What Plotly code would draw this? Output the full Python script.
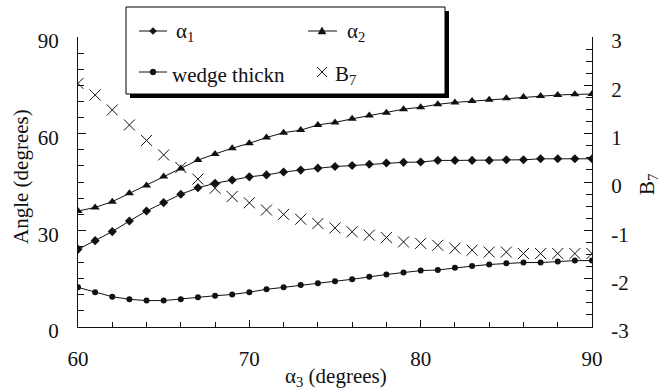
import plotly.graph_objects as go

# ---- data ----
alpha3 = list(range(60, 91))
alpha1 = [24.1, 26.8, 29.6, 32.9, 36.0, 38.6, 41.2, 43.2, 44.6, 45.6, 46.6, 47.2, 48.1, 48.7, 49.3,
          49.8, 50.1, 50.5, 50.9, 51.1, 51.2, 51.7, 51.7, 51.7, 51.7, 51.9, 51.9, 52.2, 52.2, 52.2, 52.2]
alpha2 = [36.0, 37.1, 38.9, 41.5, 43.9, 46.7, 49.2, 51.8, 53.7, 55.5, 57.0, 58.8, 60.3, 61.1, 62.7,
          63.5, 64.6, 65.6, 66.5, 67.6, 68.2, 69.1, 69.7, 70.1, 70.5, 71.0, 71.4, 71.7, 72.0, 72.2, 72.3]
wedge = [12.3, 10.8, 9.4, 8.6, 8.2, 8.2, 8.6, 9.2, 9.7, 10.1, 10.8, 11.7, 12.3, 13.0, 13.6,
         14.2, 14.8, 15.6, 16.3, 16.9, 17.5, 17.7, 18.4, 18.9, 19.4, 19.8, 20.0, 20.0, 20.3, 20.6, 20.6]
b7 = [2.04, 1.80, 1.49, 1.18, 0.86, 0.56, 0.30, 0.06, -0.13, -0.30, -0.43, -0.58, -0.67, -0.77, -0.86,
      -0.95, -1.03, -1.10, -1.15, -1.24, -1.27, -1.31, -1.37, -1.41, -1.45, -1.45, -1.48, -1.48, -1.48, -1.48, -1.48]

x_ticks = [60, 70, 80, 90]
y_left_ticks = [0, 30, 60, 90]
y_right_ticks = [-3, -2, -1, 0, 1, 2, 3]
y_right_text = ["-3", "-2", "-1", "0", "1", "2", "3"]

FONT = "Liberation Serif"
INK = "#111111"
FS = 21

W, H = 660, 391
L, R, T, B = 78, 68, 37, 64
PW, PH = W - L - R, H - T - B


def px(x):
    return (x - L) / PW


def py(y):
    return (H - B - y) / PH


fig = go.Figure()
line = dict(color=INK, width=1)
fig.add_trace(go.Scatter(x=alpha3, y=alpha1, name="α<sub>1</sub>", mode="lines+markers",
                         line=line, marker=dict(symbol="diamond", size=7, color=INK)))
fig.add_trace(go.Scatter(x=alpha3, y=alpha2, name="α<sub>2</sub>", mode="lines+markers",
                         line=line, marker=dict(symbol="triangle-up", size=8, color=INK)))
fig.add_trace(go.Scatter(x=alpha3, y=wedge, name="wedge thickn", mode="lines+markers",
                         line=line, marker=dict(symbol="circle", size=6, color=INK)))
fig.add_trace(go.Scatter(x=alpha3, y=b7, name="B<sub>7</sub>", mode="markers", yaxis="y2",
                         marker=dict(symbol="x-thin-open", size=11, color=INK,
                                     line=dict(color=INK, width=1))))

# ---- custom legend (box with shadow) ----
shapes = []
bx0, bx1, by0, by1 = 126, 445, 7, 94
shapes.append(dict(type="rect", xref="paper", yref="paper", x0=px(bx0 + 4), x1=px(bx1 + 4),
                   y0=py(by1 + 4), y1=py(by0 + 4), fillcolor="black", line=dict(width=0), layer="above"))
shapes.append(dict(type="rect", xref="paper", yref="paper", x0=px(bx0), x1=px(bx1),
                   y0=py(by1), y1=py(by0), fillcolor="white", line=dict(color="black", width=1), layer="above"))


def seg(x0, x1, y):
    shapes.append(dict(type="line", xref="paper", yref="paper", x0=px(x0), x1=px(x1), y0=py(y), y1=py(y),
                       line=dict(color=INK, width=1), layer="above"))


def poly(pts):
    d = "M " + " L ".join(f"{px(a):.5f},{py(b):.5f}" for a, b in pts) + " Z"
    shapes.append(dict(type="path", xref="paper", yref="paper", path=d, fillcolor=INK,
                       line=dict(color=INK, width=0.5), layer="above"))


r1, r2 = 31, 72
seg(139, 167, r1)
poly([(153, r1 - 3.5), (156.5, r1), (153, r1 + 3.5), (149.5, r1)])
seg(308, 337, r1)
poly([(322, r1 - 4), (326, r1 + 3), (318, r1 + 3)])
seg(139, 167, r2)
shapes.append(dict(type="circle", xref="paper", yref="paper", x0=px(150), x1=px(156), y0=py(r2 + 3), y1=py(r2 - 3),
                   fillcolor=INK, line=dict(color=INK, width=0.5), layer="above"))
shapes.append(dict(type="line", xref="paper", yref="paper", x0=px(317), x1=px(327), y0=py(r2 - 5), y1=py(r2 + 5),
                   line=dict(color=INK, width=1), layer="above"))
shapes.append(dict(type="line", xref="paper", yref="paper", x0=px(317), x1=px(327), y0=py(r2 + 5), y1=py(r2 - 5),
                   line=dict(color=INK, width=1), layer="above"))

lf = dict(family=FONT, size=FS, color=INK)
annotations = [
    dict(text="α<sub>1</sub>", x=px(174), y=py(r1 + 1), xref="paper", yref="paper", xanchor="left", yanchor="middle",
         showarrow=False, font=lf),
    dict(text="α<sub>2</sub>", x=px(345), y=py(r1 + 1), xref="paper", yref="paper", xanchor="left", yanchor="middle",
         showarrow=False, font=lf),
    dict(text="wedge thickn", x=px(170), y=py(r2 + 3), xref="paper", yref="paper", xanchor="left", yanchor="middle",
         showarrow=False, font=lf),
    dict(text="B<sub>7</sub>", x=px(333), y=py(r2 + 3), xref="paper", yref="paper", xanchor="left", yanchor="middle",
         showarrow=False, font=lf),
    # axis titles placed explicitly
    dict(text="α<sub>3</sub> (degrees)", x=px(336), y=py(377), xref="paper", yref="paper",
         xanchor="center", yanchor="middle", showarrow=False, font=lf),
    dict(text="B<sub>7</sub>", x=px(648), y=py(185), xref="paper", yref="paper", textangle=-90,
         xanchor="center", yanchor="middle", showarrow=False, font=lf),
    dict(text="Angle (degrees)", x=px(21), y=py(177), xref="paper", yref="paper", textangle=-90,
         xanchor="center", yanchor="middle", showarrow=False, font=lf),
]

tf = dict(family=FONT, size=FS, color=INK)
fig.update_layout(
    width=W, height=H, autosize=False,
    margin=dict(l=L, r=R, t=T, b=B, pad=0),
    paper_bgcolor="white", plot_bgcolor="white",
    showlegend=False,
    font=dict(family=FONT, size=FS, color=INK),
    shapes=shapes, annotations=annotations,
    xaxis=dict(range=[60, 90], tickvals=x_ticks, ticks="inside", ticklen=7, tickcolor=INK,
               showline=True, linecolor=INK, linewidth=1, showgrid=False, zeroline=False,
               ticklabelstandoff=13, tickfont=tf,
               minor=dict(dtick=2, ticks="inside", ticklen=5, tickcolor=INK, showgrid=False)),
    yaxis=dict(range=[0, 90], tickvals=y_left_ticks, ticks="inside", ticklen=8, tickcolor=INK,
               showline=True, linecolor=INK, linewidth=1, showgrid=False, zeroline=False,
               ticklabelstandoff=14, ticklabelshift=4, tickfont=tf,
               minor=dict(dtick=5, ticks="inside", ticklen=6, tickcolor=INK, showgrid=False)),
    yaxis2=dict(range=[-3, 3], tickvals=y_right_ticks, ticktext=y_right_text, overlaying="y", side="right",
                ticks="inside", ticklen=8, tickcolor=INK,
                showline=True, linecolor=INK, linewidth=1, showgrid=False, zeroline=False,
                ticklabelstandoff=14, ticklabelshift=4, tickfont=tf,
                minor=dict(dtick=0.25, ticks="inside", ticklen=6, tickcolor=INK, showgrid=False)),
)

fig.write_html("out.html", config={"displayModeBar": False},
               post_script="document.body.style.margin='0px';")
